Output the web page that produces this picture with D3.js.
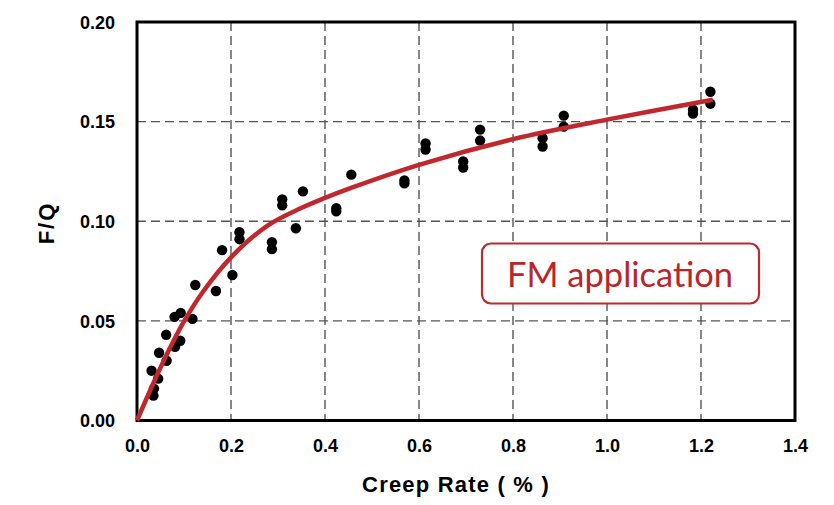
<!DOCTYPE html>
<html>
<head>
<meta charset="utf-8">
<script src="https://cdn.jsdelivr.net/npm/d3@7"></script>
<style>
  html, body { margin: 0; padding: 0; background: #fff; }
  svg { display: block; }
</style>
</head>
<body>
<svg id="chart" width="834" height="505"></svg>
<script>
// ---- Data ----
const pointX = [0.035, 0.036, 0.031, 0.045, 0.047, 0.063, 0.062, 0.081, 0.092, 0.080, 0.093, 0.118, 0.124,
  0.168, 0.181, 0.203, 0.218, 0.218, 0.287, 0.287, 0.309, 0.309, 0.353, 0.338, 0.424, 0.424, 0.456,
  0.569, 0.569, 0.614, 0.614, 0.694, 0.694, 0.730, 0.730, 0.863, 0.863, 0.908, 0.908, 1.183, 1.183, 1.220, 1.220];
const pointY = [0.0125, 0.016, 0.025, 0.021, 0.034, 0.030, 0.043, 0.037, 0.040, 0.052, 0.054, 0.051, 0.068,
  0.065, 0.0855, 0.073, 0.0945, 0.091, 0.0895, 0.086, 0.111, 0.108, 0.115, 0.0965, 0.1065, 0.105, 0.1234,
  0.1205, 0.119, 0.139, 0.136, 0.130, 0.127, 0.146, 0.1405, 0.1417, 0.1375, 0.153, 0.1475, 0.156, 0.154, 0.165, 0.159];

const curveX = [0, 0.03, 0.063, 0.10, 0.14, 0.20, 0.277, 0.348, 0.40, 0.454, 0.60, 0.80, 1.00, 1.225];
const curveY = [0, 0.0162, 0.0330, 0.0497, 0.0645, 0.0819, 0.0977, 0.1065, 0.1117, 0.1166, 0.1283, 0.1412, 0.151, 0.161];

const xTicks = [0.0, 0.2, 0.4, 0.6, 0.8, 1.0, 1.2, 1.4];
const yTicks = [0.00, 0.05, 0.10, 0.15, 0.20];
const xTitle = "Creep Rate ( % )";
const yTitle = "F/Q";
const noteText = "FM application";

// ---- Layout ----
const svg = d3.select("#chart");
const plotLeft = 137, plotRight = 795, plotTop = 22, plotBottom = 420.5;
const red = "#c0282d";

const x = d3.scaleLinear().domain([0, 1.4]).range([plotLeft, plotRight]);
const y = d3.scaleLinear().domain([0, 0.2]).range([plotBottom, plotTop]);

// grid lines
const grid = svg.append("g");
grid.selectAll("line.v").data(xTicks.slice(1, -1)).join("line")
  .attr("x1", d => x(d)).attr("x2", d => x(d))
  .attr("y1", plotTop).attr("y2", plotBottom)
  .attr("stroke", "#555").attr("stroke-width", 1.4).attr("stroke-dasharray", "9,5");
grid.selectAll("line.h").data(yTicks.slice(1, -1)).join("line")
  .attr("y1", d => y(d)).attr("y2", d => y(d))
  .attr("x1", plotLeft).attr("x2", plotRight)
  .attr("stroke", "#555").attr("stroke-width", 1.4).attr("stroke-dasharray", "9,5");

// axes (labels only, frame drawn separately)
const xAxis = d3.axisBottom(x).tickValues(xTicks).tickFormat(d3.format(".1f")).tickSize(0).tickPadding(19);
const yAxis = d3.axisLeft(y).tickValues(yTicks).tickFormat(d3.format(".2f")).tickSize(0).tickPadding(22);
const gx = svg.append("g").attr("transform", `translate(0,${plotBottom})`).call(xAxis);
const gy = svg.append("g").attr("transform", `translate(${plotLeft},0)`).call(yAxis);
[gx, gy].forEach(g => {
  g.select(".domain").remove();
  g.selectAll("text").attr("font-family", "Liberation Sans, Arial, sans-serif")
    .attr("font-weight", "bold").attr("font-size", 18).attr("fill", "#000");
});
gx.selectAll("text").attr("dy", "0.71em");
gy.selectAll("text").attr("dy", "0.35em");

// frame
svg.append("rect").attr("x", plotLeft).attr("y", plotTop)
  .attr("width", plotRight - plotLeft).attr("height", plotBottom - plotTop)
  .attr("fill", "none").attr("stroke", "#000").attr("stroke-width", 3);

// titles
svg.append("text").attr("x", 456).attr("y", 492)
  .attr("text-anchor", "middle")
  .attr("font-family", "Liberation Sans, Arial, sans-serif")
  .attr("font-weight", "bold").attr("font-size", 22).attr("letter-spacing", 1.2)
  .text(xTitle);
svg.append("text")
  .attr("transform", "translate(54,223) rotate(-90)")
  .attr("text-anchor", "middle")
  .attr("font-family", "Liberation Sans, Arial, sans-serif")
  .attr("font-weight", "bold").attr("font-size", 22).attr("letter-spacing", 2)
  .text(yTitle);

// points
svg.append("g").selectAll("circle").data(pointX.map((d, i) => [d, pointY[i]])).join("circle")
  .attr("cx", d => x(d[0])).attr("cy", d => y(d[1])).attr("r", 5.2).attr("fill", "#000");

// fitted curve
const line = d3.line().x(d => x(d[0])).y(d => y(d[1])).curve(d3.curveCatmullRom.alpha(0.5));
svg.append("path").datum(curveX.map((d, i) => [d, curveY[i]]))
  .attr("d", line).attr("fill", "none").attr("stroke", red)
  .attr("stroke-width", 4.5).attr("stroke-linecap", "butt");

// annotation box
svg.append("rect").attr("x", 482).attr("y", 243.5).attr("width", 277).attr("height", 60)
  .attr("rx", 9).attr("ry", 9)
  .attr("fill", "#fff").attr("stroke", red).attr("stroke-width", 2.2);
svg.append("text").attr("x", 620).attr("y", 286.5)
  .attr("text-anchor", "middle")
  .attr("font-family", "Lato, 'Open Sans', sans-serif")
  .attr("font-size", 34.5).attr("fill", "#b8262b")
  .text(noteText);
</script>
</body>
</html>
